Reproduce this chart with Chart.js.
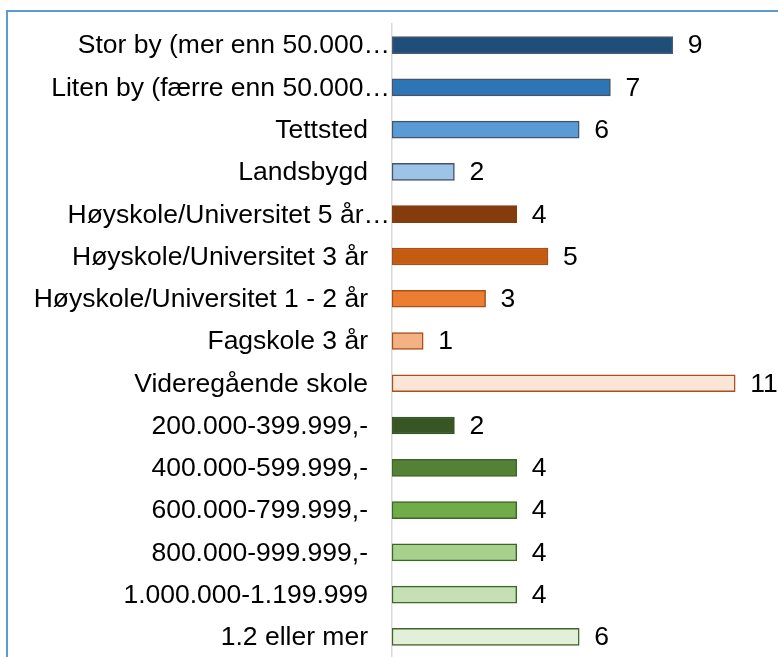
<!DOCTYPE html>
<html>
<head>
<meta charset="utf-8">
<script src="https://cdn.jsdelivr.net/npm/chart.js@4.4.0/dist/chart.umd.min.js"></script>
<style>
  html, body { margin: 0; padding: 0; background: #fff; overflow: hidden; }
  #wrap { position: relative; width: 778px; height: 660px; }
  #frame { position: absolute; left: 6px; top: 10px; width: 800px; height: 700px;
           border-left: 2px solid #5b9bd5; border-top: 2px solid #5b9bd5; }
  #chartBox { position: absolute; left: 0; top: 0; width: 778px; height: 660px; }
</style>
</head>
<body>
<div id="wrap">
  <div id="frame"></div>
  <div id="chartBox"><canvas id="barChart"></canvas></div>
</div>
<script>
// kategorier og verdier
const labels = [
    "Stor by (mer enn 50.000…",
    "Liten by (færre enn 50.000…",
    "Tettsted",
    "Landsbygd",
    "Høyskole/Universitet 5 år…",
    "Høyskole/Universitet 3 år",
    "Høyskole/Universitet 1 - 2 år",
    "Fagskole 3 år",
    "Videregående skole",
    "200.000-399.999,-",
    "400.000-599.999,-",
    "600.000-799.999,-",
    "800.000-999.999,-",
    "1.000.000-1.199.999",
    "1.2 eller mer"
];
const values = [9, 7, 6, 2, 4, 5, 3, 1, 11, 2, 4, 4, 4, 4, 6];

const fillColors = [
    "#1f4e79", "#2e75b6", "#5b9bd5", "#9dc3e6",
    "#843c0c", "#c55a11", "#ed7d31", "#f4b183", "#fbe5d6",
    "#375623", "#548235", "#70ad47", "#a9d18e", "#c5e0b4", "#e2f0d9"
];
const borderColors = [
    "#4a5a70", "#44546a", "#44546a", "#44546a",
    "#843c0c", "#a9501a", "#a9501a", "#a9501a", "#a9501a",
    "#375623", "#3f6528", "#3f6528", "#3f6528", "#3f6528", "#3f6528"
];

const FONT = "Liberation Sans, Arial, sans-serif";
const FONT_SIZE = 26.5;

// kategorinavn (avkortede navn går helt inn til aksen) og verdier ved stolpene
const textLabels = {
    id: "textLabels",
    afterDatasetsDraw(chart) {
        const ctx = chart.ctx;
        const yScale = chart.scales.y;
        const meta = chart.getDatasetMeta(0);
        ctx.save();
        ctx.font = FONT_SIZE + "px " + FONT;
        ctx.fillStyle = "#000";
        ctx.textBaseline = "middle";
        ctx.textAlign = "right";
        labels.forEach((lab, i) => {
            const y = yScale.getPixelForValue(i);
            const x = lab.endsWith("…") ? yScale.right - 2 : yScale.right - 24;
            ctx.fillText(lab, x, y + 1);
        });
        ctx.textAlign = "left";
        meta.data.forEach((bar, i) => {
            ctx.fillText(String(values[i]), bar.x + 15, bar.y + 1);
        });
        ctx.restore();
    }
};

const ctx = document.getElementById("barChart").getContext("2d");
new Chart(ctx, {
    type: "bar",
    data: {
        labels: labels,
        datasets: [{
            data: values,
            backgroundColor: fillColors,
            borderColor: borderColors,
            borderWidth: 1.5,
            borderSkipped: false,
            barThickness: 17
        }]
    },
    options: {
        indexAxis: "y",
        responsive: true,
        maintainAspectRatio: false,
        animation: false,
        layout: { padding: { top: 24, bottom: 2, left: 0, right: 11.6 } },
        plugins: {
            legend: { display: false },
            tooltip: { enabled: false }
        },
        scales: {
            x: {
                display: false,
                min: 0,
                max: 12
            },
            y: {
                afterFit(scale) {
                    scale.width = 392;
                    scale.paddingTop = 0;
                    scale.paddingBottom = 0;
                },
                grid: { display: false, drawTicks: false },
                border: { display: true, color: "#d9d9d9", width: 1.5 },
                ticks: { display: false }
            }
        }
    },
    plugins: [textLabels]
});
</script>
</body>
</html>
